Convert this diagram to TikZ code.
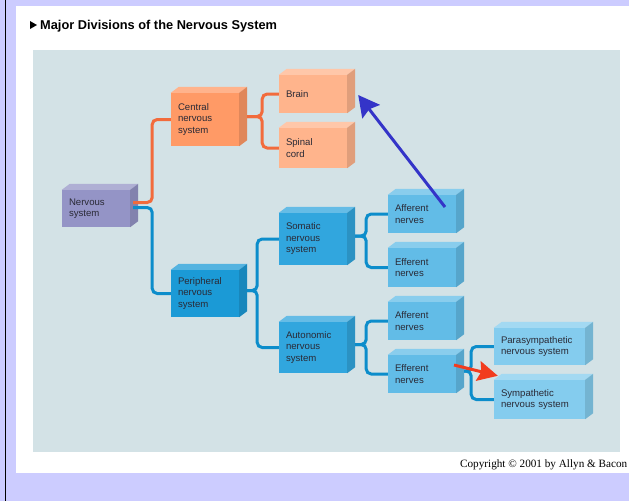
\documentclass[tikz,border=0pt]{standalone}
\usepackage{fontspec}
\setmainfont{Liberation Serif}
\setsansfont{Liberation Sans}
\usetikzlibrary{arrows.meta}
\tikzset{>=stealth}
\definecolor{lavender}{HTML}{CCCCFF}
\definecolor{panel}{HTML}{D3E2E6}
\definecolor{nsc}{HTML}{9494C6}
\definecolor{cnsc}{HTML}{FF9A66}
\definecolor{brc}{HTML}{FFB48C}
\definecolor{pnsc}{HTML}{1B9AD6}
\definecolor{somc}{HTML}{31A6DE}
\definecolor{nrvc}{HTML}{62BCE7}
\definecolor{parc}{HTML}{84CCEE}
\definecolor{cnsline}{HTML}{F26B3C}
\definecolor{pnsline}{HTML}{0C8DCB}
\definecolor{arrowblue}{HTML}{3434C8}
\definecolor{arrowred}{HTML}{F23C1E}
\definecolor{boxtext}{HTML}{2A2A36}
\tikzstyle{cube} = [rectangle, inner xsep = 7pt, inner ysep = 0pt, text width = 54pt, align = left, text = boxtext, font = \sffamily\fontsize{9.6}{11.5}\selectfont]
\tikzstyle{widecube} = [cube, text width = 77pt]
\tikzstyle{branch} = [line width = 3, rounded corners = 5pt]

\begin{document}
\begin{tikzpicture}[x = 1pt, y = -1pt]
    \useasboundingbox (0,0) rectangle (629,501);
    \fill [lavender] (0,0) rectangle (629,501);
    \draw [line width = 1.5] (5.5,0) -- (5.5,501);
    \fill [white] (16,6) rectangle (629,473);
    \fill [panel] (33,50) rectangle (620,452);
    \fill (30,21) -- (30,29) -- (37,25) -- cycle;
    \node (title) [anchor = base west, inner sep = 0, font = \sffamily\bfseries\fontsize{12.8}{15}\selectfont] at (40,29) {Major Divisions of the Nervous System};
    \node (copy) [anchor = base east, inner sep = 0, font = \rmfamily\fontsize{11.2}{13}\selectfont] at (627.5,467) {Copyright © 2001 by Allyn \& Bacon};

    \node (ns) [cube, fill = nsc, minimum height = 37] at (96,208.5) {Nervous\\system};
    \node (cns) [cube, fill = cnsc, minimum height = 53] at (205,119.5) {Central\\nervous\\system};
    \node (pns) [cube, fill = pnsc, minimum height = 47] at (205,293.5) {Peripheral\\nervous\\system};
    \node (brain) [cube, fill = brc, minimum height = 38] at (313,94) {Brain};
    \node (spinal) [cube, fill = brc, minimum height = 40] at (313,148) {Spinal\\cord};
    \node (som) [cube, fill = somc, minimum height = 52] at (313,239) {Somatic\\nervous\\system};
    \node (aut) [cube, fill = somc, minimum height = 51] at (313,347.5) {Autonomic\\nervous\\system};
    \node (aff1) [cube, fill = nrvc, minimum height = 38] at (422,214) {Afferent\\nerves};
    \node (eff1) [cube, fill = nrvc, minimum height = 39] at (422,267.5) {Efferent\\nerves};
    \node (aff2) [cube, fill = nrvc, minimum height = 38] at (422,321) {Afferent\\nerves};
    \node (eff2) [cube, fill = nrvc, minimum height = 38] at (422,374) {Efferent\\nerves};
    \node (para) [widecube, fill = parc, minimum height = 37] at (539.5,346.5) {Parasympathetic\\nervous system};
    \node (sym) [widecube, fill = parc, minimum height = 39] at (539.5,399.5) {Sympathetic\\nervous system};

    % top and side of each box
    \foreach \n/\c in {ns/nsc, cns/cnsc, pns/pnsc, brain/brc, spinal/brc, som/somc, aut/somc, aff1/nrvc, eff1/nrvc, aff2/nrvc, eff2/nrvc, para/parc, sym/parc} {
        \shade [left color = \c!75!white, middle color = \c!25!white, right color = \c!75!white] (\n.north west) -- ++(8,-6) -- ([shift = {(8,-6)}]\n.north east) -- (\n.north east) -- cycle;
        \fill [\c!88!black] (\n.north east) -- ([shift = {(8,-6)}]\n.north east) -- ([shift = {(8,-6)}]\n.south east) -- (\n.south east) -- cycle;
    }

    \draw [branch, cnsline] ([shift = {(3,-6)}]ns.east) -- ++(19,0) |- (cns.west);
    \draw [branch, pnsline] ([shift = {(3,-1)}]ns.east) -- ++(19,0) |- (pns.west);
    \draw [branch, cnsline] ([shift = {(8,-3)}]cns.east) -- ++(15,0) |- (brain.west);
    \draw [branch, cnsline] ([shift = {(8,-3)}]cns.east) -- ++(15,0) |- (spinal.west);
    \draw [branch, pnsline] ([shift = {(8,-3)}]pns.east) -- ++(10,0) |- (som.west);
    \draw [branch, pnsline] ([shift = {(8,-3)}]pns.east) -- ++(10,0) |- (aut.west);
    \draw [branch, pnsline] ([shift = {(8,-3)}]som.east) -- ++(11,0) |- (aff1.west);
    \draw [branch, pnsline] ([shift = {(8,-3)}]som.east) -- ++(11,0) |- (eff1.west);
    \draw [branch, pnsline] ([shift = {(8,-3)}]aut.east) -- ++(11,0) |- (aff2.west);
    \draw [branch, pnsline] ([shift = {(8,-3)}]aut.east) -- ++(11,0) |- (eff2.west);
    \draw [branch, pnsline] ([shift = {(8,-3)}]eff2.east) -- ++(7,0) |- (para.west);
    \draw [branch, pnsline] ([shift = {(8,-3)}]eff2.east) -- ++(7,0) |- (sym.west);

    \draw [-{Stealth[length = 21pt, width = 22pt, inset = 3pt]}, line width = 3, arrowblue] ([shift = {(23,-7)}]aff1.center) -- ([shift = {(11,1)}]brain.east);
    \draw [-{Stealth[length = 20pt, width = 20pt, inset = 3pt]}, line width = 3, arrowred] ([shift = {(32,-9)}]eff2.center) -- ([shift = {(4,-4)}]sym.north west);
\end{tikzpicture}
\end{document}
